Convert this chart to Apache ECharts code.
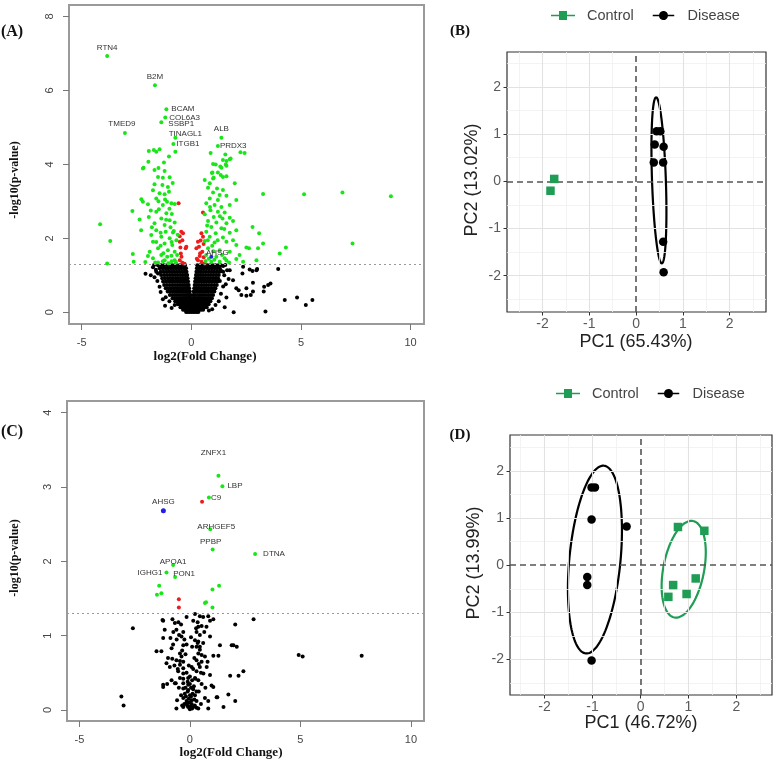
<!DOCTYPE html>
<html><head><meta charset="utf-8">
<script src="https://cdn.jsdelivr.net/npm/echarts@6/dist/echarts.min.js"></script>
<style>html,body{margin:0;padding:0;background:#fff}#c{width:777px;height:761px}</style>
</head><body><div id="c"></div><script>
// ---------- Panel A volcano ----------
const aBlackRows = [
 [1.27,[-1.52,-1.38,-1.25,-1.12,-1.0,-0.88,-0.76,-0.64,-0.52,-0.4,-0.29,0.27,0.39,0.5,0.62,0.74,0.86,0.98,1.1,1.22,1.35]],
 [1.19,[-1.45,-1.31,-1.18,-1.06,-0.94,-0.82,-0.7,-0.58,-0.46,-0.34,-0.24,0.25,0.36,0.47,0.58,0.7,0.82,0.94,1.06,1.18,1.3]],
 [1.10,[-1.6,-1.4,-1.27,-1.14,-1.02,-0.9,-0.78,-0.66,-0.54,-0.42,-0.31,-0.22,0.23,0.33,0.44,0.56,0.68,0.8,0.92,1.04,1.16,1.28,1.45]],
 [1.01,[-1.38,-1.24,-1.11,-0.98,-0.86,-0.74,-0.62,-0.5,-0.39,-0.28,-0.19,0.21,0.31,0.42,0.53,0.65,0.77,0.89,1.01,1.13,1.25]],
 [0.92,[-1.33,-1.2,-1.07,-0.95,-0.83,-0.71,-0.59,-0.47,-0.36,-0.26,-0.17,0.19,0.29,0.4,0.51,0.62,0.74,0.86,0.98,1.1,1.22]],
 [0.83,[-1.29,-1.16,-1.03,-0.91,-0.79,-0.67,-0.55,-0.44,-0.33,-0.23,-0.15,0.17,0.27,0.37,0.48,0.6,0.71,0.83,0.95,1.07,1.19]],
 [0.74,[-1.24,-1.11,-0.98,-0.86,-0.74,-0.62,-0.51,-0.4,-0.3,-0.2,-0.12,0.15,0.25,0.35,0.46,0.57,0.68,0.8,0.92,1.04,1.16]],
 [0.65,[-1.17,-1.04,-0.92,-0.8,-0.68,-0.57,-0.46,-0.36,-0.26,-0.17,-0.1,0.13,0.22,0.32,0.43,0.54,0.65,0.76,0.88,1.0,1.1]],
 [0.56,[-1.08,-0.96,-0.84,-0.73,-0.62,-0.51,-0.41,-0.31,-0.22,-0.14,-0.07,0.11,0.2,0.3,0.4,0.5,0.61,0.72,0.83,0.95,1.05]],
 [0.47,[-0.98,-0.87,-0.76,-0.66,-0.56,-0.46,-0.36,-0.27,-0.18,-0.1,-0.04,0.09,0.17,0.27,0.37,0.47,0.57,0.67,0.78,0.89,0.99]],
 [0.38,[-0.86,-0.76,-0.66,-0.56,-0.47,-0.38,-0.29,-0.21,-0.13,-0.06,0.0,0.07,0.15,0.24,0.33,0.42,0.52,0.62,0.72,0.83,0.94]],
 [0.30,[-0.74,-0.64,-0.55,-0.46,-0.37,-0.29,-0.21,-0.14,-0.07,0.0,0.07,0.14,0.22,0.3,0.38,0.47,0.56,0.66,0.76,0.87]],
 [0.22,[-0.62,-0.53,-0.44,-0.36,-0.28,-0.2,-0.13,-0.06,0.01,0.08,0.16,0.24,0.32,0.41,0.5,0.59,0.69,0.79]],
 [0.14,[-0.5,-0.42,-0.34,-0.26,-0.18,-0.11,-0.04,0.03,0.1,0.18,0.26,0.34,0.42,0.51,0.6,0.7]],
 [0.07,[-0.38,-0.3,-0.22,-0.14,-0.07,0.0,0.07,0.14,0.21,0.29,0.37,0.45,0.54]],
 [0.01,[-0.24,-0.16,-0.08,0.0,0.08,0.16,0.24,0.32]]
];
const aBlackScatter = [[-2.09,1.04],[-1.52,1.05],[-1.45,0.69],[-1.17,0.41],[-0.76,0.20],[1.93,0.0],[1.52,0.14],[1.37,1.12],[1.75,1.14],[2.36,1.23],[2.33,1.05],[2.79,1.12],[2.97,1.14],[3.96,1.17],[2.05,0.65],[2.16,0.60],[2.51,0.65],[2.81,0.56],[2.28,0.47],[2.51,0.45],[2.71,0.47],[3.32,0.69],[3.50,0.74],[3.61,0.78],[3.30,0.56],[1.60,0.40],[1.90,0.87],[1.57,0.76],[4.26,0.33],[4.82,0.40],[5.22,0.20],[5.52,0.33],[3.38,0.02],[2.81,0.80],[1.63,1.14],[2.66,1.16],[3.00,1.17],[-1.75,1.22],[-1.68,0.95],[-1.55,0.85],[-1.4,0.55],[-1.3,0.35],[-1.2,0.18],[-1.85,1.0],[-1.62,1.15],[1.5,1.0],[1.45,0.7],[1.35,0.5],[1.25,0.3],[1.1,0.2],[0.95,0.08],[1.7,0.9],[-0.9,0.12],[0.8,0.05],[-1.0,0.3],[1.3,0.85],[1.45,1.25],[-1.7,1.28],[1.55,1.28]];
const aGreen = [[-1.94,4.36],[-1.71,4.39],[-1.45,4.41],[-1.60,4.34],[-1.02,4.21],[-0.73,4.34],[-1.96,4.07],[-2.21,3.89],[-2.18,3.91],[-1.68,3.85],[-1.52,3.66],[-1.30,3.64],[-0.99,3.65],[-1.22,3.82],[-1.68,3.46],[-1.32,3.44],[-1.07,3.39],[-1.02,3.26],[-1.45,3.22],[-1.22,3.19],[-2.28,3.06],[-1.60,3.08],[-1.11,2.99],[-0.91,2.95],[-0.76,2.93],[-1.98,2.92],[-2.21,2.99],[-1.48,2.79],[-2.69,2.74],[-1.60,2.72],[-1.14,2.68],[-0.89,2.66],[-1.94,2.58],[-2.36,2.51],[-1.37,2.54],[-0.99,2.49],[-0.76,2.43],[-1.68,2.41],[-1.22,2.36],[-4.16,2.38],[-2.29,2.22],[-1.60,2.22],[-1.17,2.18],[-0.84,2.16],[-1.83,2.09],[-1.37,2.04],[-0.99,2.00],[-0.68,1.95],[-3.70,1.93],[-1.75,1.91],[-1.22,1.86],[-0.87,1.82],[-1.52,1.73],[-1.07,1.68],[-0.76,1.64],[-1.90,1.64],[-2.67,1.58],[-1.37,1.55],[-0.91,1.53],[-1.98,1.52],[-1.75,1.46],[-1.22,1.41],[-0.76,1.41],[-2.63,1.37],[-3.84,1.32],[-1.52,1.35],[-1.05,1.33],[-0.7,1.35],[-2.1,1.36],[-1.4,1.8],[-1.15,2.5],[-1.3,2.9],[-1.5,3.0],[-0.8,2.2],[-1.8,2.3],[-1.28,1.6],[-1.6,1.9],[-0.9,1.9],[-1.1,1.5],[-0.95,2.3],[-1.4,2.15],[-1.85,2.75],[-1.2,3.05],[-1.75,3.3],[-0.85,3.5],[-1.5,3.9],[-1.25,4.05],[-1.0,2.8],[-0.65,1.55],[-0.62,2.1],[-1.65,1.35],[-0.9,1.38],[-1.3,1.38],
 [0.88,4.31],[0.99,4.01],[0.94,3.77],[0.99,3.62],[1.32,3.94],[1.55,4.27],[1.60,4.09],[1.79,4.16],[1.60,3.96],[1.34,3.71],[1.60,3.68],[2.24,4.33],[2.43,4.31],[1.75,4.14],[1.44,4.12],[1.57,4.00],[1.37,3.91],[1.11,4.00],[0.96,3.78],[1.21,3.78],[1.44,3.66],[1.02,3.64],[0.61,3.58],[0.84,3.49],[1.98,3.49],[3.27,3.20],[0.76,3.37],[1.17,3.35],[1.44,3.31],[0.99,3.24],[1.29,3.17],[1.60,3.15],[0.84,3.08],[1.21,3.04],[2.05,3.04],[0.68,2.95],[1.06,2.90],[1.37,2.85],[1.75,2.90],[0.87,2.76],[1.21,2.72],[1.52,2.70],[0.61,2.65],[1.02,2.58],[1.42,2.54],[1.75,2.56],[0.76,2.47],[1.14,2.43],[1.60,2.41],[1.90,2.47],[0.91,2.31],[1.37,2.27],[2.79,2.31],[0.68,2.18],[1.11,2.14],[1.75,2.15],[2.05,2.22],[0.84,2.04],[1.44,2.02],[3.09,2.14],[0.61,1.93],[1.06,1.89],[1.60,1.91],[2.05,1.82],[2.51,1.75],[3.27,1.86],[0.76,1.73],[1.29,1.68],[1.75,1.64],[0.68,1.55],[1.14,1.50],[1.52,1.46],[2.05,1.44],[2.97,1.41],[0.65,1.39],[0.91,1.37],[1.29,1.37],[1.72,1.35],[2.36,1.37],[5.14,3.19],[6.89,3.24],[9.10,3.14],[7.35,1.86],[2.63,1.73],[3.04,1.73],[4.31,1.75],[4.03,1.59],[0.8,1.45],[1.0,1.65],[1.2,1.95],[0.95,1.8],[1.4,1.55],[0.72,2.35],[1.3,2.6],[0.85,2.85],[1.5,2.25],[0.75,1.95],[1.05,1.42],[1.6,1.4],[1.9,1.95],[2.2,1.55]];
const aRed = [[-0.58,2.95],[-0.46,2.18],[-0.53,2.06],[-0.41,1.95],[-0.53,1.91],[-0.26,1.73],[-0.48,1.59],[-0.53,1.41],[-0.41,1.34],[-0.31,1.31],[-0.38,2.14],[-0.23,1.77],[-0.45,1.5],[-0.5,1.75],
 [0.53,2.70],[0.46,2.14],[0.53,2.04],[0.42,1.94],[0.56,1.85],[0.35,1.77],[0.50,1.64],[0.38,1.52],[0.56,1.49],[0.30,1.41],[0.46,1.37],[0.61,1.32],[0.30,1.91],[0.23,1.73],[0.4,1.6],[0.25,1.45]];
const aGeneNames = ['RTN4','B2M','BCAM','COL6A3','SSBP1','TMED9','TINAGL1','ITGB1','ALB','PRDX3'];
const aGeneFC     = [-3.84,-1.66,-1.14,-1.19,-1.37,-3.03,-0.73,-0.82,1.37,1.21];
const aGeneP      = [6.93,6.14,5.49,5.27,5.14,4.85,4.72,4.55,4.72,4.50];
const aBlueNames = ['AHSG'], aBlueFC = [0.91], aBlueP = [1.50];

// ---------- Panel C volcano ----------
const cBlack = [[-2.58,1.10],[2.88,1.22],[2.05,1.15],[-1.21,1.20],[-0.79,1.22],[-0.68,1.17],[0.23,1.29],[0.45,1.26],[0.83,1.26],[1.06,1.22],[0.91,1.20],[0.38,1.12],[0.53,1.13],[-1.14,1.08],[-0.61,1.08],[-0.30,1.05],[0.30,1.05],[-0.49,1.01],[-0.38,0.99],[-1.21,0.97],[-0.88,0.97],[0.45,1.01],[0.91,0.99],[0.23,0.94],[0.38,0.92],[-0.76,0.88],[-0.30,0.87],[1.36,0.87],[1.97,0.87],[2.12,0.85],[-0.83,0.83],[0.30,0.85],[0.45,0.81],[-1.51,0.79],[-1.29,0.79],[-0.45,0.76],[-0.38,0.72],[0.38,0.76],[0.53,0.74],[0.68,0.72],[1.06,0.73],[1.29,0.73],[-0.99,0.70],[-0.61,0.67],[-0.30,0.65],[0.30,0.67],[0.53,0.65],[-1.06,0.63],[-0.91,0.58],[-0.45,0.61],[-0.30,0.56],[0.08,0.58],[0.45,0.58],[0.76,0.58],[-0.53,0.52],[-0.30,0.49],[0.30,0.52],[0.61,0.49],[2.42,0.52],[1.82,0.46],[2.20,0.46],[0.91,0.47],[-0.45,0.43],[-0.08,0.43],[0.23,0.43],[0.38,0.40],[-0.83,0.40],[-1.21,0.34],[-1.03,0.35],[-0.68,0.36],[-0.30,0.36],[0.0,0.35],[0.53,0.35],[0.98,0.33],[-0.30,0.29],[-0.08,0.27],[0.15,0.28],[0.30,0.25],[-0.23,0.22],[0.0,0.20],[0.23,0.20],[1.74,0.21],[1.21,0.17],[2.05,0.12],[-0.58,0.13],[0.68,0.16],[-0.30,0.16],[-0.15,0.12],[0.08,0.13],[0.30,0.12],[0.83,0.12],[1.52,0.04],[-0.61,0.02],[-0.30,0.04],[-0.08,0.04],[0.15,0.04],[0.38,0.02],[0.83,0.02],[-0.15,0.09],[0.08,0.08],
 [-3.1,0.18],[-3.0,0.06],[4.92,0.74],[5.10,0.72],[7.77,0.73],[1.89,0.87],[1.24,0.17],[1.06,0.31],[-1.21,0.31],[-0.64,0.36],[-0.80,0.69],[-1.24,1.21],
 [-0.2,0.3],[-0.1,0.25],[0.05,0.3],[0.12,0.22],[-0.18,0.18],[-0.05,0.15],[0.2,0.14],[-0.12,0.06],[0.02,0.05],[0.22,0.06],[-0.25,0.08],[0.1,0.02],[-0.02,0.1],[0.05,0.18],[-0.1,0.38],[0.1,0.4],[0.0,0.45],[-0.15,0.5],[0.15,0.55],[-0.05,0.6],[0.2,0.7],[-0.2,0.75],[0.1,0.85],[-0.35,0.8],[0.35,0.9],[-0.25,0.95],[0.28,1.1],[-0.4,1.15],[0.15,1.2],[-0.15,1.25],[0.6,1.25],[-0.6,0.95],[0.6,0.9],[-0.55,0.55],[0.5,0.5],[-0.4,0.2],[0.4,0.25],[-0.35,0.06],[0.3,0.03],[0.5,0.08],[-0.5,0.3],[0.7,0.3],[-0.7,0.6],[0.8,0.65],[0.65,1.05],[-0.75,1.05],[0.0,0.01],[0.18,0.32],[-0.08,0.34],[0.25,0.42],[-0.3,0.42],[0.4,0.62],[-0.45,0.66],[0.45,0.85],[-0.15,0.88],[0.05,0.98],[0.35,1.18],[-0.52,1.18],[0.75,1.12]];
const cGreen = [[-1.39,1.67],[-1.49,1.55],[-1.29,1.57],[1.02,1.62],[1.32,1.67],[0.68,1.44],[0.73,1.45],[1.02,1.38]];
const cRed = [[0.55,2.80],[-0.5,1.49],[-0.5,1.38]];
const cGeneNames = ['ZNFX1','LBP','C9','ARHGEF5','PPBP','DTNA','APOA1','IGHG1','PON1'];
const cGeneFC     = [1.29,1.47,0.86,0.92,1.03,2.95,-0.76,-1.06,-0.67];
const cGeneP      = [3.15,3.01,2.86,2.43,2.16,2.10,1.95,1.85,1.79];
const cBlueNames = ['AHSG'], cBlueFC = [-1.2], cBlueP = [2.68];
const pThreshold = 1.3;

// ---------- PCA B ----------
const bControl = [[-1.75,0.05],[-1.83,-0.20]];
const bDisease = [[0.38,0.40],[0.58,0.40],[0.40,0.78],[0.59,0.73],[0.44,1.06],[0.52,1.06],[0.58,-1.28],[0.59,-1.93]];
const bEllipseDisease = [0.49,0.02,1.761,0.148,92];
// ---------- PCA D ----------
const dControl = [[0.78,0.81],[1.33,0.73],[1.15,-0.28],[0.68,-0.42],[0.58,-0.67],[0.96,-0.61]];
const dDisease = [[-1.02,1.65],[-0.95,1.65],[-1.02,0.97],[-0.29,0.82],[-1.11,-0.25],[-1.11,-0.42],[-1.02,-2.02]];
const dEllipseDisease = [-0.95,0.12,1.998,0.533,84.6];
const dEllipseControl = [0.9,-0.085,1.04,0.425,79.3];

const volXTicks = [-5,0,5,10];
const aYTicks = [0,2,4,6,8];
const cYTicks = [0,1,2,3,4];
const pcaTicks = [-2,-1,0,1,2];
const pcaMajor = [-2,-1,1,2];
const pcaMinor = [-2.5,-1.5,-0.5,0.5,1.5,2.5];

// ---------- styling ----------
const GREEN_V = '#19e619', RED_V = '#ee1c1c', BLUE_V = '#2020ee';
const GREEN_P = '#1f9d55';
const serif = '"Liberation Serif","Times New Roman",serif';
const sans = '"Liberation Sans",Arial,sans-serif';

const aBlack = [];
aBlackRows.forEach(r => r[1].forEach(x => aBlack.push([x, r[0]])));
aBlackScatter.forEach(p => aBlack.push(p));

const labStyle = {show:true, formatter:'{b}', fontSize:8, color:'#333', fontFamily:sans};
const posA = {RTN4:{position:'top',distance:2}, B2M:{position:'top',distance:2}, BCAM:{position:'right',distance:3},
 COL6A3:{position:'right',distance:2}, SSBP1:{position:'right',distance:5,offset:[0,2]}, TMED9:{position:'top',distance:3,offset:[-3,0]},
 TINAGL1:{position:'top',distance:0,offset:[10,2]}, ITGB1:{position:'right',distance:1}, ALB:{position:'top',distance:3}, PRDX3:{position:'right',distance:0},
 AHSG:{position:'top',distance:0,offset:[6,2]}};
const posC = {ZNFX1:{position:'top',distance:2,offset:[-5,-15]}, LBP:{position:'right',distance:3}, C9:{position:'right',distance:0},
 AHSG:{position:'top',distance:2}, ARHGEF5:{position:'top',distance:0,offset:[6,3]}, PPBP:{position:'top',distance:2,offset:[-2,0]},
 DTNA:{position:'right',distance:6}, APOA1:{position:'top',distance:0,offset:[0,3]}, IGHG1:{position:'left',distance:2}, PON1:{position:'top',distance:0,offset:[9,3]}};
function labeled(names, xs, ys, pos){
  return names.map((n,i)=>({name:n, value:[xs[i],ys[i]], label:Object.assign({}, labStyle, pos[n]||{})}));
}
function sc(xi, data, color, size, z, extra){
  return Object.assign({type:'scatter', xAxisIndex:xi, yAxisIndex:xi, data:data, symbol:'circle', symbolSize:size,
    itemStyle:{color:color, opacity:1}, z:z, silent:true}, extra||{});
}
function ellipse(xi, params, color){
  return {type:'custom', xAxisIndex:xi, yAxisIndex:xi, z:3, silent:true, data:[params],
    renderItem:(p, api)=>{
      const cx=api.value(0), cy=api.value(1), a=api.value(2), b=api.value(3), th=api.value(4)*Math.PI/180;
      const pts=[];
      for(let k=0;k<=144;k++){const t=k/144*2*Math.PI;
        pts.push(api.coord([cx+a*Math.cos(t)*Math.cos(th)-b*Math.sin(t)*Math.sin(th), cy+a*Math.cos(t)*Math.sin(th)+b*Math.sin(t)*Math.cos(th)]));}
      return {type:'polyline', shape:{points:pts}, style:{stroke:color, fill:null, lineWidth:2.2}};
    }};
}
function gridLines(xi){
  const d=[];
  pcaMinor.forEach(v=>{d.push({xAxis:v, lineStyle:{color:'#f0f0f0',width:0.8,type:'solid'}}); d.push({yAxis:v, lineStyle:{color:'#f0f0f0',width:0.8,type:'solid'}});});
  pcaMajor.forEach(v=>{d.push({xAxis:v, lineStyle:{color:'#e2e2e2',width:1.1,type:'solid'}}); d.push({yAxis:v, lineStyle:{color:'#e2e2e2',width:1.1,type:'solid'}});});
  return [
   {type:'scatter', xAxisIndex:xi, yAxisIndex:xi, data:[], z:1, silent:true,
    markLine:{silent:true, symbol:['none','none'], label:{show:false}, animation:false, data:d}},
   {type:'scatter', xAxisIndex:xi, yAxisIndex:xi, data:[], z:2, silent:true,
    markLine:{silent:true, symbol:['none','none'], label:{show:false}, animation:false,
      lineStyle:{color:'#555', width:1.6, type:[6,4]}, data:[{xAxis:0},{yAxis:0}]}}
  ];
}
function volX(gi, min, max){
  return {type:'value', gridIndex:gi, min:min, max:max, axisLine:{show:false, onZero:false}, splitLine:{show:false},
    axisTick:{show:true, customValues:volXTicks, length:6, lineStyle:{color:'#777', width:1}},
    axisLabel:{customValues:volXTicks, fontSize:11, color:'#444', margin:13, fontFamily:sans}};
}
function volY(gi, min, max, ticks){
  return {type:'value', gridIndex:gi, min:min, max:max, axisLine:{show:false, onZero:false}, splitLine:{show:false},
    axisTick:{show:true, customValues:ticks, length:6, lineStyle:{color:'#777', width:1}},
    axisLabel:{customValues:ticks, fontSize:11, color:'#444', margin:14, rotate:90, fontFamily:sans}};
}
function pcaAx(gi, min, max, isY){
  return {type:'value', gridIndex:gi, min:min, max:max, axisLine:{show:false, onZero:false}, splitLine:{show:false},
    axisTick:{show:true, customValues:pcaTicks, length:3.5, lineStyle:{color:'#333', width:1}},
    axisLabel:{customValues:pcaTicks, fontSize:14, color:'#5a5a5a', margin:isY?6:5, fontFamily:sans}};
}
const thresholdLine = {silent:true, symbol:['none','none'], label:{show:false}, animation:false,
  lineStyle:{color:'#999', width:1.2, type:[2,3]}, data:[{yAxis:pThreshold}]};

const iconSquare = 'path://M0,4.2H8V0.5H16V4.2H24V5.8H16V9.5H8V5.8H0Z';
const iconCircle = 'path://M0,4.2H7.06A5,5 0 0 1 16.94,4.2H24V5.8H16.94A5,5 0 0 1 7.06,5.8H0Z';
function legend(left, top){
  return {left:left, top:top, itemWidth:24, itemHeight:9, itemGap:19, selectedMode:false,
    textStyle:{fontSize:14.5, color:'#444', fontFamily:sans, padding:[0,0,0,7]},
    data:[{name:'Control', icon:iconSquare, itemStyle:{color:GREEN_P}}, {name:'Disease', icon:iconCircle, itemStyle:{color:'#000'}}]};
}
function txt(x, y, text, font, rot, color){
  return {type:'text', x:x, y:y, rotation:rot||0, silent:true,
    style:{text:text, font:font, fill:color||'#111', align:'center', verticalAlign:'middle'}};
}

const option = {
  animation:false, backgroundColor:'#fff',
  grid:[
    {left:69, top:5, width:355, height:319, show:true, borderColor:'#9a9a9a', borderWidth:2, backgroundColor:'transparent'},
    {left:507, top:52, width:259, height:260, show:true, borderColor:'#333', borderWidth:1.2, backgroundColor:'transparent'},
    {left:67, top:401, width:357, height:320, show:true, borderColor:'#9a9a9a', borderWidth:2, backgroundColor:'transparent'},
    {left:510, top:435, width:262, height:260, show:true, borderColor:'#333', borderWidth:1.2, backgroundColor:'transparent'}
  ],
  xAxis:[ volX(0,-5.58,10.61), pcaAx(1,-2.76,2.78,false), volX(2,-5.56,10.59), pcaAx(3,-2.72,2.74,false) ],
  yAxis:[ volY(0,-0.316,8.31,aYTicks), pcaAx(1,-2.77,2.74,true), volY(2,-0.148,4.157,cYTicks), pcaAx(3,-2.75,2.76,true) ],
  legend:[ legend(546,3), legend(551,381) ],
  series:[
    sc(0, aBlack, '#000', 4, 2, {markLine:thresholdLine}),
    sc(0, aRed, RED_V, 4, 3),
    sc(0, aGreen, GREEN_V, 4, 3),
    sc(0, labeled(aGeneNames,aGeneFC,aGeneP,posA), GREEN_V, 4, 4),
    sc(0, labeled(aBlueNames,aBlueFC,aBlueP,posA), BLUE_V, 4, 4),
    sc(2, cBlack, '#000', 4, 2, {markLine:thresholdLine}),
    sc(2, cRed, RED_V, 4, 3),
    sc(2, cGreen, GREEN_V, 4, 3),
    sc(2, labeled(cGeneNames,cGeneFC,cGeneP,posC), GREEN_V, 4, 4),
    sc(2, labeled(cBlueNames,cBlueFC,cBlueP,posC), BLUE_V, 5, 4),
    ...gridLines(1),
    ellipse(1, bEllipseDisease, '#000'),
    Object.assign(sc(1, bControl, GREEN_P, 8.5, 5), {name:'Control', symbol:'rect'}),
    Object.assign(sc(1, bDisease, '#000', 8.5, 5), {name:'Disease'}),
    ...gridLines(3),
    ellipse(3, dEllipseDisease, '#000'),
    ellipse(3, dEllipseControl, GREEN_P),
    Object.assign(sc(3, dControl, GREEN_P, 8.5, 5), {name:'Control', symbol:'rect'}),
    Object.assign(sc(3, dDisease, '#000', 8.5, 5), {name:'Disease'})
  ],
  graphic:[
    txt(12, 32, '(A)', 'bold 16px '+serif),
    txt(12, 432, '(C)', 'bold 16px '+serif),
    txt(460, 31, '(B)', 'bold 15px '+serif),
    txt(460, 435, '(D)', 'bold 15px '+serif),
    txt(15, 180, '-log10(p-value)', 'bold 12px '+serif, Math.PI/2),
    txt(15, 558, '-log10(p-value)', 'bold 12px '+serif, Math.PI/2),
    txt(205, 357, 'log2(Fold Change)', 'bold 13px '+serif),
    txt(231, 753, 'log2(Fold Change)', 'bold 13px '+serif),
    txt(472, 180, 'PC2 (13.02%)', '18px '+sans, Math.PI/2, '#222'),
    txt(636, 342, 'PC1 (65.43%)', '18px '+sans, 0, '#222'),
    txt(474, 563, 'PC2 (13.99%)', '18px '+sans, Math.PI/2, '#222'),
    txt(641, 723, 'PC1 (46.72%)', '18px '+sans, 0, '#222')
  ]
};
const chart = echarts.init(document.getElementById('c'), null, {renderer:'canvas'});
chart.setOption(option);
</script></body></html>
